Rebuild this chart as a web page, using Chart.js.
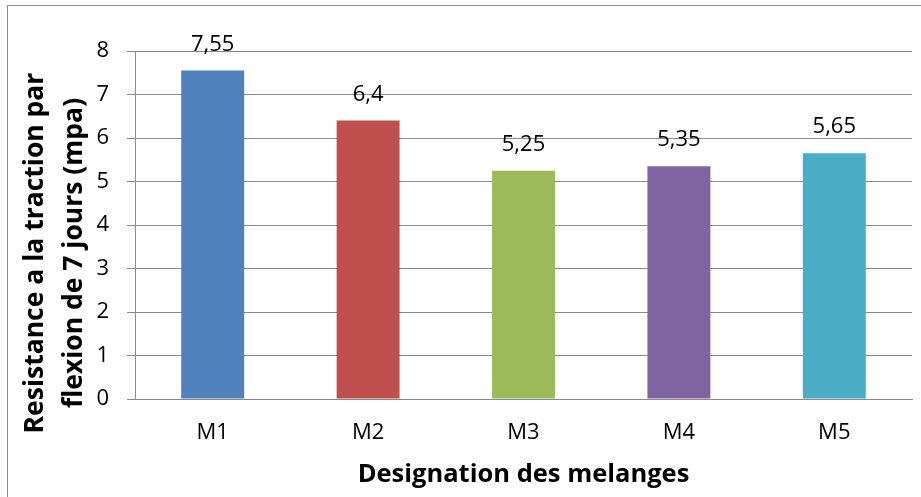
<!DOCTYPE html>
<html>
<head>
<meta charset="utf-8">
<script src="https://cdn.jsdelivr.net/npm/chart.js@4/dist/chart.umd.min.js"></script>
<style>
  html, body { margin: 0; padding: 0; background: #ffffff; }
  #wrap { width: 921px; height: 497px; position: relative; }
</style>
</head>
<body>
<div id="wrap"><canvas id="c" width="921" height="497"></canvas></div>
<script>
// Flexural tensile strength at 7 days for each mix
const categories = ['M1', 'M2', 'M3', 'M4', 'M5'];
const strength = [7.55, 6.4, 5.25, 5.35, 5.65];
const barColors = ['#4F81BD', '#C0504D', '#9BBB59', '#8064A2', '#4BACC6'];
const yTitle = ['Resistance a la traction par', 'flexion de 7 jours (mpa)'];
const xTitle = 'Designation des melanges';

const FONT = '"Open Sans", "Noto Sans", sans-serif';

// Thin grey frame around the whole chart
const framePlugin = {
  id: 'frame',
  beforeDraw(chart) {
    const ctx = chart.ctx;
    ctx.save();
    ctx.strokeStyle = '#8a8a8a';
    ctx.lineWidth = 1;
    ctx.strokeRect(7.5, 5.5, 940, 520);
    ctx.restore();
  }
};

// Axis titles: bold, the vertical one on two lines
const axisTitles = {
  id: 'axisTitles',
  afterDraw(chart) {
    const ctx = chart.ctx;
    const area = chart.chartArea;
    ctx.save();
    ctx.fillStyle = '#000000';
    ctx.font = 'bold 25.5px ' + FONT;
    ctx.textAlign = 'center';
    ctx.textBaseline = 'alphabetic';
    ctx.fillText(xTitle, (area.left + area.right) / 2, 482);

    ctx.font = 'bold 26.5px ' + FONT;
    const baselines = [43, 82];
    yTitle.forEach((line, i) => {
      ctx.save();
      ctx.translate(baselines[i], 253);
      ctx.rotate(-Math.PI / 2);
      ctx.fillText(line, 0, 0);
      ctx.restore();
    });
    ctx.restore();
  }
};

// Value above each bar, written with a decimal comma
const valueLabels = {
  id: 'valueLabels',
  afterDatasetsDraw(chart) {
    const ctx = chart.ctx;
    const meta = chart.getDatasetMeta(0);
    ctx.save();
    ctx.font = '22px ' + FONT;
    ctx.fillStyle = '#000000';
    ctx.textAlign = 'center';
    ctx.textBaseline = 'alphabetic';
    meta.data.forEach((bar, i) => {
      const txt = String(strength[i]).replace('.', ',');
      ctx.fillText(txt, bar.x, bar.y - 20);
    });
    ctx.restore();
  }
};

new Chart(document.getElementById('c'), {
  type: 'bar',
  data: {
    labels: categories,
    datasets: [{
      data: strength,
      backgroundColor: barColors,
      borderWidth: 0,
      barPercentage: 0.405,
      categoryPercentage: 1
    }]
  },
  options: {
    responsive: false,
    animation: false,
    devicePixelRatio: 1,
    layout: { padding: { top: 51, right: 9, bottom: 0, left: 0 } },
    plugins: {
      legend: { display: false },
      tooltip: { enabled: false }
    },
    scales: {
      x: {
        grid: { display: false, drawTicks: false },
        border: { display: true, color: '#8a8a8a', width: 1 },
        ticks: { color: '#000000', font: { family: FONT, size: 22 }, padding: 21 },
        afterFit(scale) { scale.height = 98; }
      },
      y: {
        min: 0,
        max: 8,
        ticks: { stepSize: 1, color: '#000000', font: { family: FONT, size: 22 }, padding: 18 },
        grid: { color: '#8a8a8a', lineWidth: 1, tickLength: 8, drawTicks: true },
        border: { display: true, color: '#8a8a8a', width: 1 },
        afterFit(scale) { scale.width = 135; }
      }
    }
  },
  plugins: [framePlugin, valueLabels, axisTitles]
});
</script>
</body>
</html>
